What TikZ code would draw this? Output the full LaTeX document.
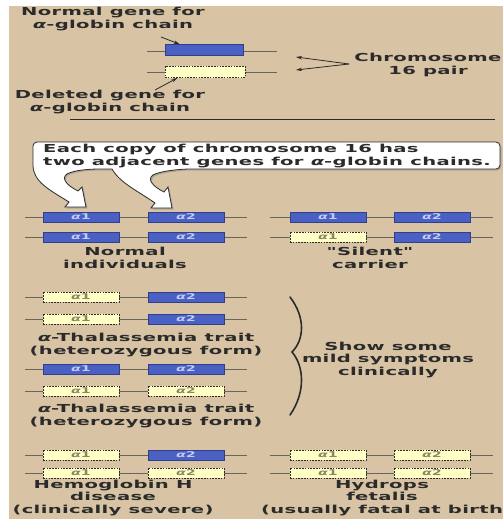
\documentclass[tikz,border=0pt]{standalone}
\usepackage{fontspec}
\newfontfamily\wide[FakeStretch=1.78,LetterSpace=3]{DejaVu Sans}
\usetikzlibrary{positioning,arrows.meta,calc,shadows}
\definecolor{paper}{HTML}{D8C4A4}
\definecolor{gene}{HTML}{4A60C2}
\definecolor{genedark}{HTML}{2F3F8C}
\definecolor{genetext}{HTML}{C4CAF0}
\definecolor{gone}{HTML}{FFFFC6}
\definecolor{gonetext}{HTML}{8C8668}
\definecolor{ink}{HTML}{2B2B2B}
\definecolor{strand}{HTML}{6A655C}

\tikzset{
  txt/.style={text=ink, font=\wide\bfseries\fontsize{11}{12.8}\selectfont, align=center, inner sep=0pt},
  genebox/.style={fill=gene, draw=genedark, line width=0.6pt, minimum width=76pt, minimum height=10pt, inner sep=0pt, text=genetext, font=\wide\bfseries\fontsize{8}{8}\selectfont},
  gonebox/.style={fill=gone, draw=ink, dash pattern=on 1.6pt off 1.2pt, line width=0.9pt, minimum width=76pt, minimum height=10pt, inner sep=0pt, text=gonetext, font=\wide\bfseries\fontsize{8}{8}\selectfont},
  strandline/.style={draw=strand, line width=0.7pt},
  ptr/.style={-{Stealth[length=6pt,width=3.5pt]}, draw=ink, line width=0.8pt}
}

\begin{document}
\begin{tikzpicture}[x=1pt,y=-1pt]
\useasboundingbox (0,0) rectangle (503,519);
\fill[white] (0,0) rectangle (503,519);
\fill[paper] (9,6) rectangle (503,519);

\draw[strandline] (147,51) -- (277,51);
\draw[strandline] (147,72) -- (277,72);
\node[genebox, minimum width=78pt, minimum height=11pt] (topgene) at (204,50) {};
\node[gonebox, minimum width=80pt, minimum height=11pt] (topgone) at (205,72) {};
\node[txt] (normtxt) at (113,19) {Normal gene for\\{\itshape α}-globin chain};
\node[txt] (deltxt) at (110,102) {Deleted gene for\\{\itshape α}-globin chain};
\coordinate (n1) at (161,37);
\coordinate (d1) at (155,90);
\draw[ptr] (n1) -- ($(topgene.north west)+(15,0)$);
\draw[ptr] (d1) -- ($(topgone.south west)+(13,0)$);
\node[txt] (chrtxt) at (428,65) {Chromosome\\16 pair};
\coordinate (cp) at (349,64);
\coordinate (c1) at (296,57);
\coordinate (c2) at (296,70);
\draw[ptr] (cp) -- (c1);
\draw[ptr] (cp) -- (c2);
\draw[ink, line width=0.9pt] (70,119) -- (495,119);

\draw[fill=white, draw=ink, line width=0.8pt, drop shadow={opacity=0.45, shadow xshift=1.5pt, shadow yshift=-1.5pt}]
  (33,165) [rounded corners=4pt] -- (33,142) -- (500,142) -- (500,169) -- (195,169) [sharp corners]
  .. controls (180,169) and (160,171) .. (153,175) .. controls (147,179) and (152,186) .. (164,192)
  -- (168,187) -- (172,208) -- (151,208) -- (155,203) .. controls (138,191) and (120,183) .. (112,169)
  -- (100,169) .. controls (90,169) and (74,170) .. (67,174) .. controls (61,178) and (66,185) .. (78,191)
  -- (82,187) -- (86,207) -- (65,207) -- (69,202) .. controls (50,190) and (33,182) .. (33,165) -- cycle;
\node[txt, align=left, anchor=west] (calltxt) at (43,156) {Each copy of chromosome 16 has\\two adjacent genes for {\itshape α}-globin chains.};

\draw[strandline] (25,217) -- (247,217);
\draw[strandline] (25,237) -- (247,237);
\node[genebox] (nA1) at (81,217) {{\itshape α}1};
\node[genebox] (nA2) at (186,217) {{\itshape α}2};
\node[genebox] (nB1) at (81,237) {{\itshape α}1};
\node[genebox] (nB2) at (186,237) {{\itshape α}2};
\node[txt] (normal) at (125,258) {Normal\\individuals};

\draw[strandline] (270,217) -- (493,217);
\draw[strandline] (270,237) -- (493,237);
\node[genebox] (sA1) at (328,217) {{\itshape α}1};
\node[genebox] (sA2) at (432,217) {{\itshape α}2};
\node[gonebox] (sB1) at (328,237) {{\itshape α}1};
\node[genebox] (sB2) at (432,237) {{\itshape α}2};
\node[txt] (silent) at (370,258) {"Silent"\\carrier};

\draw[strandline] (25,297) -- (247,297);
\draw[strandline] (25,319) -- (247,319);
\node[gonebox] (tA1) at (81,297) {{\itshape α}1};
\node[genebox] (tA2) at (186,297) {{\itshape α}2};
\node[gonebox] (tB1) at (81,319) {{\itshape α}1};
\node[genebox] (tB2) at (186,319) {{\itshape α}2};
\node[txt] (trait1) at (146,345) {{\itshape α}-Thalassemia trait\\(heterozygous form)};

\draw[strandline] (25,369) -- (247,369);
\draw[strandline] (25,391) -- (247,391);
\node[genebox] (uA1) at (81,369) {{\itshape α}1};
\node[genebox] (uA2) at (186,369) {{\itshape α}2};
\node[gonebox] (uB1) at (81,391) {{\itshape α}1};
\node[gonebox] (uB2) at (186,391) {{\itshape α}2};
\node[txt] (trait2) at (146,416) {{\itshape α}-Thalassemia trait\\(heterozygous form)};

\draw[ink, line width=1.6pt, line cap=round] (290,297) .. controls (306,318) and (304,340) .. (292,352) .. controls (304,366) and (306,392) .. (290,415);
\node[txt] (mild) at (388,360) {Show some\\mild symptoms\\clinically};

\draw[strandline] (25,455) -- (247,455);
\draw[strandline] (25,473) -- (247,473);
\node[gonebox] (hA1) at (81,455) {{\itshape α}1};
\node[genebox] (hA2) at (186,455) {{\itshape α}2};
\node[gonebox] (hB1) at (81,473) {{\itshape α}1};
\node[gonebox] (hB2) at (186,473) {{\itshape α}2};
\node[txt] (hbh) at (113,498) {Hemoglobin H\\disease\\(clinically severe)};

\draw[strandline] (270,455) -- (493,455);
\draw[strandline] (270,473) -- (493,473);
\node[gonebox] (fA1) at (328,455) {{\itshape α}1};
\node[gonebox] (fA2) at (432,455) {{\itshape α}2};
\node[gonebox] (fB1) at (328,473) {{\itshape α}1};
\node[gonebox] (fB2) at (432,473) {{\itshape α}2};
\node[txt] (hydrops) at (382,498) {Hydrops\\fetalis\\(usually fatal at birth};
\end{tikzpicture}
\end{document}
